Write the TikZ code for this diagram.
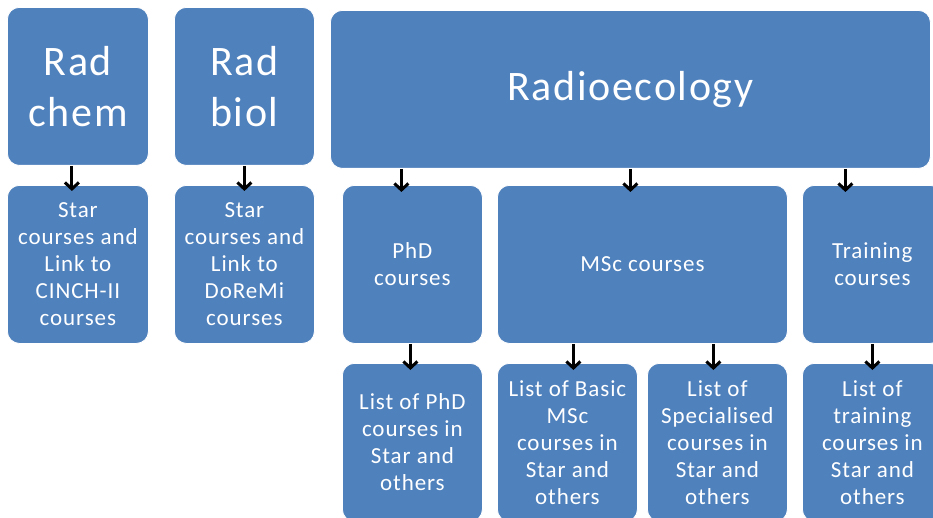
\documentclass[tikz,border=0pt]{standalone}
\usepackage{fontspec}
\setmainfont{Carlito}[LetterSpace=4]
\usetikzlibrary{arrows.meta}
\definecolor{boxblue}{HTML}{4F81BD}
\tikzset{
  box/.style={draw=white, line width=0.8pt, fill=boxblue, rounded corners=12pt,
    text=white, align=center, inner sep=0pt, anchor=north west,
    font=\fontsize{23}{27}\selectfont},
  bigbox/.style={box, font=\fontsize{42}{51}\selectfont},
  arr/.style={line width=3pt, -{Straight Barb[length=6.5pt,width=14pt]}}
}
\begin{document}
\begin{tikzpicture}[x=1pt,y=-1pt]
  \useasboundingbox (0,0) rectangle (933,518);
  \clip (0,0) rectangle (933,518);
  % top row
  \node[bigbox, minimum width=141pt, minimum height=158pt] (chem) at (7,7) {Rad\\chem};
  \node[bigbox, minimum width=140pt, minimum height=158pt] (biol) at (174,7) {Rad\\biol};
  \node[bigbox, minimum width=600pt, minimum height=158pt] (eco) at (330,10) {Radioecology};
  % second row
  \node[box, minimum width=141pt, minimum height=158pt] (cinch) at (7,185)
    {Star\\courses and\\Link to\\CINCH-II\\courses};
  \node[box, minimum width=140pt, minimum height=158pt] (doremi) at (174,185)
    {Star\\courses and\\Link to\\DoReMi\\courses};
  \node[box, minimum width=140pt, minimum height=158pt] (phd) at (342,185) {PhD\\courses};
  \node[box, minimum width=290pt, minimum height=158pt] (msc) at (497,185) {MSc courses};
  \node[box, minimum width=140pt, minimum height=158pt] (train) at (802,185) {Training\\courses};
  % third row
  \node[box, minimum width=140pt, minimum height=158pt] (phdlist) at (342,363)
    {List of PhD\\courses in\\Star and\\others};
  \node[box, minimum width=140pt, minimum height=158pt] (basic) at (497,363)
    {List of Basic\\MSc\\courses in\\Star and\\others};
  \node[box, minimum width=140pt, minimum height=158pt] (spec) at (647,363)
    {List of\\Specialised\\courses in\\Star and\\others};
  \node[box, minimum width=140pt, minimum height=158pt] (trainlist) at (802,363)
    {List of\\training\\courses in\\Star and\\others};
  % arrows
  \draw[arr] ([xshift=-6pt]chem.south) -- ([xshift=-6pt,yshift=-6pt]cinch.north);
  \draw[arr] (biol.south) -- ([yshift=-6pt]doremi.north);
  \draw[arr] ([xshift=-11pt]phd.north |- eco.south) -- ([xshift=-11pt,yshift=-7pt]phd.north);
  \draw[arr] ([xshift=-12pt]msc.north |- eco.south) -- ([xshift=-12pt,yshift=-7pt]msc.north);
  \draw[arr] ([xshift=-27pt]train.north |- eco.south) -- ([xshift=-27pt,yshift=-7pt]train.north);
  \draw[arr] ([xshift=-2pt]phd.south) -- ([xshift=-2pt,yshift=-7pt]phdlist.north);
  \draw[arr] ([xshift=6pt]basic.north |- msc.south) -- ([xshift=6pt,yshift=-7pt]basic.north);
  \draw[arr] ([xshift=-4pt]spec.north |- msc.south) -- ([xshift=-4pt,yshift=-7pt]spec.north);
  \draw[arr] (train.south) -- ([yshift=-7pt]trainlist.north);
\end{tikzpicture}
\end{document}
